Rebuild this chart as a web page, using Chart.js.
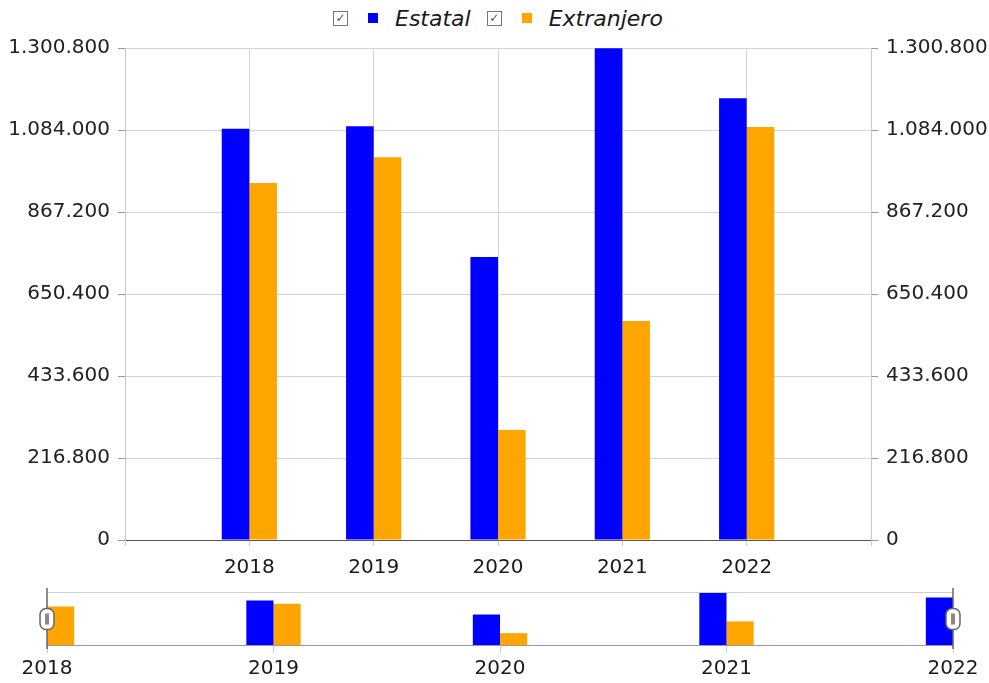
<!DOCTYPE html>
<html>
<head>
<meta charset="utf-8">
<script src="https://cdn.jsdelivr.net/npm/chart.js@4.4.0/dist/chart.umd.min.js"></script>
<style>
    body { margin: 0; background: #fff; width: 989px; height: 683px; position: relative; overflow: hidden; }
    #legend { position: absolute; top: 2px; left: 333px; height: 32px; display: flex; align-items: center; font-family: "DejaVu Sans", sans-serif; font-size: 22px; color: #1a1a1a; white-space: nowrap; }
    .chk { display: inline-block; box-sizing: border-box; width: 15px; height: 15px; border: 1px solid #777; font-size: 12px; line-height: 13px; text-align: center; color: #555; margin-right: 20px; font-style: normal; }
    .sq { display: inline-block; width: 10px; height: 10px; margin-right: 17px; }
    .lbl { font-style: italic; margin-right: 16px; }
    #main { position: absolute; top: 0; left: 0; }
    #nav { position: absolute; top: 585px; left: 0; }
</style>
</head>
<body>
<div id="legend"><span class="chk">✓</span><span class="sq" style="background:#0000ff"></span><span class="lbl">Estatal</span><span class="chk">✓</span><span class="sq" style="background:#ffa500"></span><span class="lbl">Extranjero</span></div>
<canvas id="main" width="989" height="590"></canvas>
<canvas id="nav" width="989" height="98"></canvas>
<script>
const years = ["2018", "2019", "2020", "2021", "2022"];
const estatal = [1087000, 1094000, 748000, 1300000, 1168000];
const extranjero = [944000, 1012000, 291000, 579000, 1092000];
const yTicks = [0, 216800, 433600, 650400, 867200, 1084000, 1300800];

const blue = "#0000ff";
const orange = "#ffa500";
const font = { family: "DejaVu Sans", size: 20 };

function fmt(v) {
    return v.toString().replace(/\B(?=(\d{3})+(?!\d))/g, ".");
}

// main chart: an empty slot on each side of the years
const padLabels = [""].concat(years, [""]);
const pad = (arr) => [null].concat(arr, [null]);

const yAxis = (position, width) => ({
    position: position,
    min: 0,
    max: yTicks[yTicks.length - 1],
    afterBuildTicks: (s) => { s.ticks = yTicks.map((v) => ({ value: v })); },
    afterFit: (s) => { s.width = width; },
    ticks: { font: font, color: "#222", padding: 8, callback: (v) => fmt(v) },
    grid: {
        drawOnChartArea: position === "left",
        color: (c) => (c.tick && c.tick.value === 0 ? "#555" : "#d4d4d4"),
        tickColor: "#999",
        tickLength: 7,
    },
    border: { color: "#c8c8c8" },
});

new Chart(document.getElementById("main").getContext("2d"), {
    type: "bar",
    data: {
        labels: padLabels,
        datasets: [
            { label: "Estatal", data: pad(estatal), backgroundColor: blue, yAxisID: "y" },
            { label: "Extranjero", data: pad(extranjero), backgroundColor: orange, yAxisID: "y" },
        ],
    },
    options: {
        responsive: false,
        animation: false,
        layout: { padding: { top: 48, left: 0, right: 0, bottom: 0 } },
        categoryPercentage: 0.444,
        barPercentage: 1.0,
        plugins: { legend: { display: false }, tooltip: { enabled: false } },
        scales: {
            x: {
                offset: false,
                afterFit: (s) => { s.height = 50; },
                ticks: { font: font, color: "#1a1a1a", padding: 10, maxRotation: 0, autoSkip: false },
                grid: { offset: false, color: "#d4d4d4", tickColor: "#ccc", tickLength: 6 },
                border: { color: "#555" },
            },
            y: yAxis("left", 125),
            y2: yAxis("right", 118),
        },
    },
});

// overview strip with range handles
const navFrame = {
    id: "navFrame",
    afterDraw(chart) {
        const { ctx, chartArea: a } = chart;
        ctx.save();
        ctx.strokeStyle = "#cfcfcf";
        ctx.lineWidth = 1;
        ctx.beginPath();
        ctx.moveTo(a.left, a.top + 0.5);
        ctx.lineTo(a.right, a.top + 0.5);
        ctx.stroke();
        [a.left, a.right].forEach((x) => {
            ctx.strokeStyle = "#666";
            ctx.lineWidth = 1.5;
            ctx.beginPath();
            ctx.moveTo(x, a.top - 4);
            ctx.lineTo(x, a.bottom + 4);
            ctx.stroke();
            const cy = (a.top + a.bottom) / 2;
            ctx.fillStyle = "#fff";
            ctx.beginPath();
            ctx.roundRect(x - 7, cy - 10, 14, 21, 6);
            ctx.fill();
            ctx.stroke();
            ctx.fillStyle = "#888";
            ctx.fillRect(x - 2, cy - 5, 4, 11);
        });
        ctx.restore();
    },
};

new Chart(document.getElementById("nav").getContext("2d"), {
    type: "bar",
    data: {
        labels: years,
        datasets: [
            { data: estatal, backgroundColor: blue, clip: 0 },
            { data: extranjero, backgroundColor: orange, clip: 0 },
        ],
    },
    options: {
        responsive: false,
        animation: false,
        layout: { padding: { top: 7, left: 47, right: 36, bottom: 0 } },
        categoryPercentage: 0.24,
        barPercentage: 1.0,
        plugins: { legend: { display: false }, tooltip: { enabled: false } },
        scales: {
            x: {
                offset: false,
                afterFit: (s) => { s.height = 38; },
                ticks: { font: font, color: "#1a1a1a", padding: 4, maxRotation: 0, autoSkip: false },
                grid: { offset: false, drawOnChartArea: false, tickColor: "#ccc", tickLength: 8 },
                border: { color: "#999" },
            },
            y: { display: false, min: 0, max: yTicks[yTicks.length - 1] },
        },
    },
    plugins: [navFrame],
});
</script>
</body>
</html>
